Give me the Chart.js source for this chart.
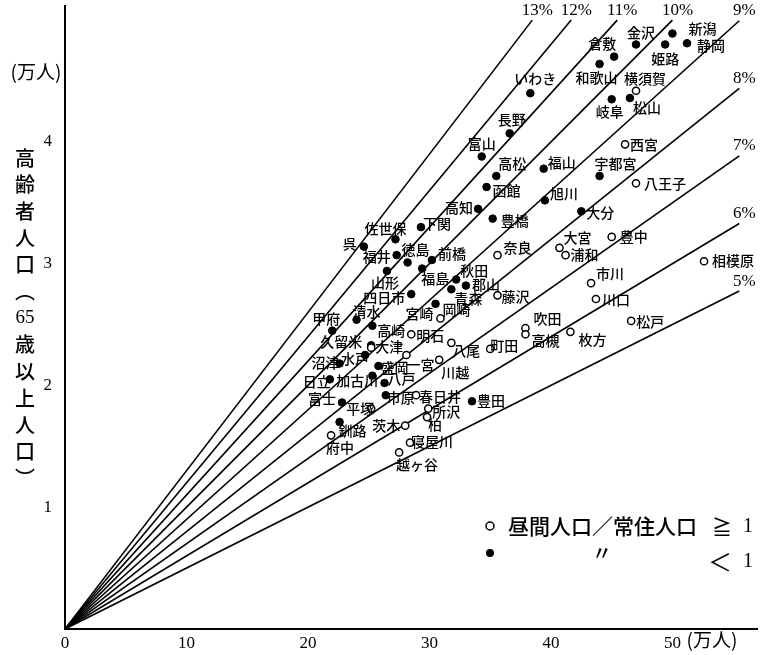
<!DOCTYPE html>
<html><head><meta charset="utf-8">
<script src="https://cdn.jsdelivr.net/npm/chart.js@4"></script>
<style>html,body{margin:0;padding:0;background:#fff}</style>
</head><body>
<canvas id="c" width="763" height="655"></canvas>
<script>
// Elderly-population ratio guide lines (percent of total population)
const ratioLevels = [5, 6, 7, 8, 9, 10, 11, 12, 13];
const xTickValues = [0, 10, 20, 30, 40, 50];
const yTickValues = [1, 2, 3, 4];

// Cities: total population (万人), population aged 65+ (万人),
// daytime/resident population ratio >= 1 (1) or < 1 (0)
const cityNames = [
  '新潟','静岡','金沢','姫路','倉敷','和歌山','横須賀','松山','岐阜','いわき',
  '長野','富山','高松','函館','高知','豊橋','福山','旭川','下関','佐世保',
  '呉','福井','徳島','前橋','福島','山形','奈良','秋田','郡山','青森',
  '藤沢','四日市','宮崎','西宮','宇都宮','八王子','大分','豊中','大宮','浦和',
  '相模原','市川','川口','松戸','枚方',
  '甲府','清水','高崎','明石','岡崎','久留米','大津','一宮','八尾','吹田',
  '高槻','町田','沼津','水戸','盛岡','川越','日立','加古川','八戸','富士',
  '市原','春日井','平塚','所沢','豊田','釧路','茨木','柏','府中','寝屋川','越ヶ谷'
];
const totalPop = [
  50.0, 51.2, 47.0, 49.4, 45.2, 44.0, 47.0, 46.5, 45.0, 38.3,
  36.6, 34.3, 35.5, 34.7, 34.0, 35.2, 39.4, 39.5, 29.3, 27.2,
  24.6, 27.3, 28.2, 30.2, 29.4, 26.5, 35.6, 32.2, 33.0, 31.8,
  35.6, 28.5, 30.5, 46.1, 44.0, 47.0, 42.5, 45.0, 40.7, 41.2,
  52.6, 43.3, 43.7, 46.6, 41.6,
  22.0, 24.0, 25.3, 28.5, 30.9, 25.2, 25.2, 28.1, 31.8, 37.9,
  37.9, 35.0, 22.6, 24.7, 25.8, 30.8, 21.8, 25.3, 26.3, 22.8,
  26.4, 28.9, 25.2, 29.9, 33.5, 22.6, 28.0, 29.8, 21.9, 28.4, 27.5
];
const elderlyPop = [
  4.89, 4.81, 4.80, 4.80, 4.70, 4.64, 4.42, 4.36, 4.35, 4.40,
  4.07, 3.88, 3.72, 3.63, 3.45, 3.37, 3.78, 3.52, 3.30, 3.20,
  3.14, 3.07, 3.01, 3.03, 2.96, 2.94, 3.07, 2.87, 2.82, 2.79,
  2.74, 2.75, 2.67, 3.98, 3.72, 3.66, 3.43, 3.22, 3.13, 3.07,
  3.02, 2.84, 2.71, 2.53, 2.44,
  2.45, 2.54, 2.49, 2.42, 2.55, 2.33, 2.31, 2.25, 2.35, 2.47,
  2.42, 2.30, 2.18, 2.25, 2.16, 2.21, 2.05, 2.08, 2.02, 1.86,
  1.92, 1.92, 1.81, 1.81, 1.87, 1.70, 1.67, 1.74, 1.59, 1.53, 1.45
];
const daytimeRatioAtLeastOne = [
  0,0,0,0,0,0,1,0,0,0,
  0,0,0,0,0,0,0,0,0,0,
  0,0,0,0,0,0,1,0,0,0,
  1,0,0,1,0,1,0,1,1,1,
  1,1,1,1,1,
  0,0,0,1,1,0,1,1,1,1,
  1,1,0,0,0,1,0,0,0,0,
  0,1,1,1,0,0,1,1,1,1,1
];

// Where each city's name sits relative to its marker (px)
const labelOffset = {
  '新潟':[30,-5],'静岡':[24,2],'金沢':[5,-12],'姫路':[0,14],'倉敷':[-12,-13],
  '和歌山':[-3,14],'横須賀':[9,-12],'松山':[17,10],'岐阜':[-2,12],'いわき':[5,-14],
  '長野':[2,-14],'富山':[0,-13],'高松':[16,-12],'函館':[20,4],'高知':[-19,-1],
  '豊橋':[22,2],'福山':[18,-6],'旭川':[19,-7],'下関':[16,-3],'佐世保':[-10,-11],
  '呉':[-14,-3],'福井':[-20,2],'徳島':[8,-13],'前橋':[20,-6],'福島':[13,10],
  '山形':[-2,12],'奈良':[20,-7],'秋田':[18,-9],'郡山':[20,-1],'青森':[17,9],
  '藤沢':[18,1],'四日市':[-27,4],'宮崎':[-16,10],'西宮':[19,0],'宇都宮':[16,-12],
  '八王子':[29,0],'大分':[19,1],'豊中':[22,0],'大宮':[18,-10],'浦和':[19,0],
  '相模原':[29,-1],'市川':[19,-9],'川口':[20,1],'松戸':[19,1],'枚方':[22,8],
  '甲府':[-6,-12],'清水':[10,-8],'高崎':[19,5],'明石':[19,1],'岡崎':[16,-9],
  '久留米':[-30,-4],'大津':[18,-1],'一宮':[14,10],'八尾':[15,8],'吹田':[22,-10],
  '高槻':[20,6],'町田':[14,-3],'沼津':[-14,-1],'水戸':[-10,4],'盛岡':[16,2],
  '川越':[16,13],'日立':[-13,2],'加古川':[-15,5],'八戸':[17,-4],'富士':[-20,-4],
  '市原':[15,2],'春日井':[24,1],'平塚':[-11,0],'所沢':[18,3],'豊田':[19,-1],
  '釧路':[13,9],'茨木':[-19,0],'柏':[8,8],'府中':[9,12],'寝屋川':[22,-1],'越ヶ谷':[18,12]
};

const CJK = '"Noto Sans CJK JP", "Noto Sans", sans-serif';
const SERIF = '"Liberation Serif", "DejaVu Serif", serif';
const X_MAX = 57, Y_MAX = 5.12, LINE_X_END = 55.5, LINE_Y_END = 5.0;

const openPts = [], filledPts = [];
cityNames.forEach((n, i) => {
  const p = { x: totalPop[i], y: elderlyPop[i], name: n };
  (daytimeRatioAtLeastOne[i] ? openPts : filledPts).push(p);
});

const lineSets = ratioLevels.map(pc => {
  const r = pc / 100;
  const xe = Math.min(LINE_X_END, LINE_Y_END / r);
  return {
    type: 'line', label: pc + '%', ratio: pc,
    data: [{ x: 0, y: 0 }, { x: xe, y: xe * r }],
    borderColor: '#000', borderWidth: 1.6, pointRadius: 0, fill: false, order: 5
  };
});

const overlay = {
  id: 'overlay',
  afterDatasetsDraw(chart) {
    const ctx = chart.ctx;
    ctx.save();
    ctx.fillStyle = '#000';
    ctx.textBaseline = 'middle';
    ctx.textAlign = 'center';
    // percentage tags at the ends of the guide lines
    ctx.font = '17px ' + SERIF;
    chart.data.datasets.forEach((ds, di) => {
      if (ds.ratio === undefined) return;
      const pts = chart.getDatasetMeta(di).data;
      const end = pts[pts.length - 1];
      ctx.fillText(ds.label, end.x + 5, end.y - 10);
    });
    // city names
    ctx.font = '500 14px ' + CJK;
    chart.data.datasets.forEach((ds, di) => {
      if (!ds.cities) return;
      chart.getDatasetMeta(di).data.forEach((el, k) => {
        const name = ds.data[k].name;
        const off = labelOffset[name] || [18, 0];
        ctx.fillText(name, el.x + off[0], el.y + off[1]);
      });
    });
    // vertical axis title
    const title = ['高','齢','者','人','口','︵','65','歳','以','上','人','口','︶'];
    title.forEach((ch, i) => {
      ctx.font = ch === '65' ? '19px ' + SERIF : '500 20px ' + CJK;
      ctx.fillText(ch, 25, 158 + i * 26.7);
    });
    // unit captions
    ctx.font = '19px ' + CJK;
    ctx.fillText('(万人)', 36, 72);
    ctx.textAlign = 'left';
    const xs = chart.scales.x;
    ctx.fillText('(万人)', xs.getPixelForValue(50) + 14, 640);
    // legend
    ctx.font = '500 21px ' + CJK;
    ctx.lineWidth = 1.5;
    ctx.strokeStyle = '#000';
    ctx.beginPath(); ctx.arc(490, 526, 4, 0, Math.PI * 2); ctx.stroke();
    ctx.fillText('昼間人口／常住人口', 508, 526);
    ctx.font = '500 20px ' + CJK;
    ctx.fillText('≧', 712, 527);
    ctx.font = '20px ' + SERIF;
    ctx.fillText('1', 743, 527);
    ctx.beginPath(); ctx.arc(490, 553, 4, 0, Math.PI * 2); ctx.fill();
    ctx.font = '500 20px ' + CJK;
    ctx.fillText('〃', 592, 553);
    ctx.font = '24px ' + CJK;
    ctx.fillText('＜', 708, 562);
    ctx.font = '20px ' + SERIF;
    ctx.fillText('1', 743, 562);
    ctx.restore();
  }
};

new Chart(document.getElementById('c'), {
  type: 'scatter',
  data: {
    datasets: [
      ...lineSets,
      { label: 'open', cities: true, data: openPts, pointStyle: 'circle', pointRadius: 3.6,
        pointBackgroundColor: '#fff', pointBorderColor: '#000', pointBorderWidth: 1.5, order: 1 },
      { label: 'filled', cities: true, data: filledPts, pointStyle: 'circle', pointRadius: 3.8,
        pointBackgroundColor: '#000', pointBorderColor: '#000', pointBorderWidth: 1, order: 1 }
    ]
  },
  options: {
    responsive: false, animation: false,
    layout: { padding: { left: 0, right: 3, top: 0, bottom: 0 } },
    plugins: { legend: { display: false }, tooltip: { enabled: false } },
    scales: {
      x: {
        type: 'linear', min: 0, max: X_MAX,
        afterBuildTicks: s => { s.ticks = xTickValues.map(v => ({ value: v })); },
        afterFit: s => { s.height = 26; s.paddingLeft = 0; s.paddingRight = 0; },
        grid: { display: false, drawTicks: false },
        border: { display: true, color: '#000', width: 2 },
        ticks: { color: '#000', padding: 4, font: { family: SERIF, size: 17 } }
      },
      y: {
        type: 'linear', min: 0, max: Y_MAX,
        afterBuildTicks: s => { s.ticks = yTickValues.map(v => ({ value: v })); },
        afterFit: s => { s.width = 65; s.paddingTop = 0; s.paddingBottom = 0; },
        grid: { display: false, drawTicks: false },
        border: { display: true, color: '#000', width: 2 },
        ticks: { color: '#000', padding: 13, font: { family: SERIF, size: 17 } }
      }
    }
  },
  plugins: [overlay]
});
</script>
</body></html>
